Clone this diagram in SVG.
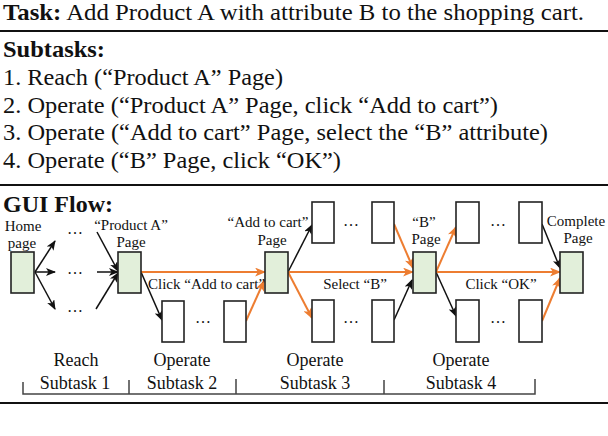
<svg xmlns="http://www.w3.org/2000/svg" width="608" height="436" viewBox="0 0 608 436">
<defs>
<style>
.t{font-family:"Liberation Serif","Times New Roman",serif;fill:#111}
.big{font-size:22.5px}
.b{font-weight:bold}
.lbl{font-size:15px;text-anchor:middle}
.sub{font-size:18px;text-anchor:middle}
.dots{font-size:16px;text-anchor:middle}
.rule{stroke:#111;stroke-width:2}
.node{fill:#e2efda;stroke:#222;stroke-width:1.6}
.box{fill:#fff;stroke:#222;stroke-width:1.6}
.k{stroke:#111;stroke-width:1.5;fill:none;marker-end:url(#ak)}
.o{stroke:#ed7d31;stroke-width:2;fill:none;marker-end:url(#ao)}
.br{stroke:#444;stroke-width:1.5;fill:none}
</style>
<marker id="ak" viewBox="0 0 10 8" refX="9" refY="4" markerWidth="10" markerHeight="8" markerUnits="userSpaceOnUse" orient="auto">
<path d="M0,0 L10,4 L0,8 L2.5,4 z" fill="#111"/>
</marker>
<marker id="ao" viewBox="0 0 10 8" refX="9" refY="4" markerWidth="11" markerHeight="9" markerUnits="userSpaceOnUse" orient="auto">
<path d="M0,0 L10,4 L0,8 L2.5,4 z" fill="#ed7d31"/>
</marker>
</defs>

<g id="header">
<text class="t big" x="3" y="20" textLength="581" lengthAdjust="spacingAndGlyphs"><tspan class="b">Task:</tspan> Add Product A with attribute B to the shopping cart.</text>
<line class="rule" x1="0" y1="31" x2="608" y2="31"/>
<text class="t big b" x="3" y="57" textLength="102" lengthAdjust="spacingAndGlyphs">Subtasks:</text>
<text class="t big" x="3" y="85" textLength="280" lengthAdjust="spacingAndGlyphs">1. Reach (“Product A” Page)</text>
<text class="t big" x="3" y="112.5" textLength="495" lengthAdjust="spacingAndGlyphs">2. Operate (“Product A” Page, click “Add to cart”)</text>
<text class="t big" x="3" y="140" textLength="545" lengthAdjust="spacingAndGlyphs">3. Operate (“Add to cart” Page, select the “B” attribute)</text>
<text class="t big" x="3" y="167.5" textLength="338" lengthAdjust="spacingAndGlyphs">4. Operate (“B” Page, click “OK”)</text>
<line class="rule" x1="0" y1="185" x2="608" y2="185"/>
<text class="t b" font-size="23" x="3" y="212" textLength="110" lengthAdjust="spacingAndGlyphs">GUI Flow:</text>
</g>

<g id="connectors">
<line class="k" x1="35" y1="272" x2="55" y2="241"/>
<line class="k" x1="35" y1="272" x2="55" y2="272"/>
<line class="k" x1="35" y1="272" x2="55" y2="309"/>
<line class="k" x1="97" y1="232" x2="118" y2="271"/>
<line class="k" x1="97" y1="272" x2="118" y2="272"/>
<line class="k" x1="96" y1="309" x2="118" y2="273"/>
<line class="k" x1="141" y1="272" x2="162" y2="320"/>
<line class="o" x1="141" y1="272" x2="265" y2="272"/>
<line class="o" x1="246" y1="321" x2="264" y2="281"/>
<line class="k" x1="288" y1="272" x2="312" y2="225"/>
<line class="o" x1="288" y1="272" x2="312" y2="318"/>
<line class="o" x1="288" y1="272" x2="413" y2="272"/>
<line class="o" x1="394" y1="224" x2="413" y2="268"/>
<line class="k" x1="394" y1="320" x2="412" y2="280"/>
<line class="o" x1="436" y1="272" x2="456" y2="227"/>
<line class="k" x1="436" y1="272" x2="456" y2="316"/>
<line class="o" x1="436" y1="272" x2="560" y2="272"/>
<line class="k" x1="542" y1="224" x2="560" y2="268"/>
<line class="o" x1="542" y1="321" x2="560" y2="278"/>
</g>

<g id="home"><rect class="node" x="11" y="252" width="23" height="41"/>
<text class="t lbl" x="23" y="231">Home</text><text class="t lbl" x="22" y="248">page</text></g>
<g id="productA"><rect class="node" x="118" y="252" width="23" height="41"/>
<text class="t lbl" x="131" y="230">“Product A”</text><text class="t lbl" x="131" y="247">Page</text></g>
<g id="addToCart"><rect class="node" x="265" y="252" width="23" height="41"/>
<text class="t lbl" x="268" y="227">“Add to cart”</text><text class="t lbl" x="272" y="245">Page</text></g>
<g id="bPage"><rect class="node" x="413" y="252" width="23" height="41"/>
<text class="t lbl" x="424" y="227">“B”</text><text class="t lbl" x="426" y="244">Page</text></g>
<g id="complete"><rect class="node" x="560" y="252" width="23" height="41"/>
<text class="t lbl" x="576" y="226">Complete</text><text class="t lbl" x="578" y="243">Page</text></g>

<g id="stage1-dots">
<text class="t dots" x="75" y="234">…</text>
<text class="t dots" x="75" y="274">…</text>
<text class="t dots" x="75" y="312">…</text>
</g>
<g id="stage2-pages">
<rect class="box" x="162" y="301" width="22" height="41"/>
<text class="t dots" x="203" y="323">…</text>
<rect class="box" x="224" y="301" width="22" height="41"/>
</g>
<g id="stage3-top">
<rect class="box" x="312" y="202" width="22" height="41"/>
<text class="t dots" x="351" y="226">…</text>
<rect class="box" x="372" y="202" width="22" height="41"/>
</g>
<g id="stage3-bottom">
<rect class="box" x="312" y="300" width="22" height="42"/>
<text class="t dots" x="351" y="323">…</text>
<rect class="box" x="372" y="300" width="22" height="42"/>
</g>
<g id="stage4-top">
<rect class="box" x="456" y="202" width="23" height="41"/>
<text class="t dots" x="498" y="226">…</text>
<rect class="box" x="519" y="202" width="23" height="41"/>
</g>
<g id="stage4-bottom">
<rect class="box" x="456" y="300" width="23" height="42"/>
<text class="t dots" x="498" y="323">…</text>
<rect class="box" x="519" y="300" width="23" height="42"/>
</g>

<g id="edge-labels">
<text class="t" font-size="15" x="148" y="289">Click “Add to cart”</text>
<text class="t lbl" x="355" y="289">Select “B”</text>
<text class="t lbl" x="501" y="289">Click “OK”</text>
</g>

<g id="subtask-bracket">
<text class="t sub" x="76" y="366">Reach</text>
<text class="t sub" x="75" y="389">Subtask 1</text>
<text class="t sub" x="182" y="366">Operate</text>
<text class="t sub" x="182" y="389">Subtask 2</text>
<text class="t sub" x="315" y="366">Operate</text>
<text class="t sub" x="315" y="389">Subtask 3</text>
<text class="t sub" x="461" y="366">Operate</text>
<text class="t sub" x="461" y="389">Subtask 4</text>
<path class="br" d="M23,382 V394 H535 V379 M129,380 V394 M236,379 V394 M384,380 V394"/>
</g>
<line class="rule" x1="0" y1="403" x2="608" y2="403"/>
</svg>
